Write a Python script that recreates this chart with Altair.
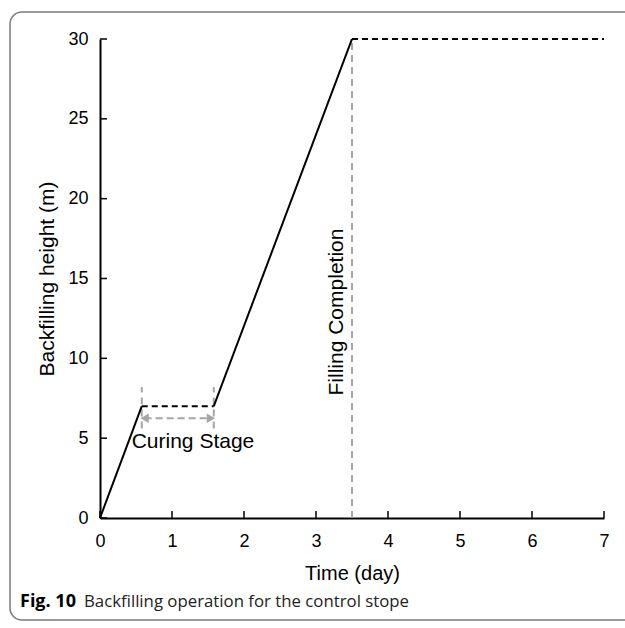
import altair as alt
import pandas as pd

# Backfilling height versus time for the control stope
seg_id = [1, 1, 2, 2, 3, 3, 4, 4]
seg_style = ["solid", "solid", "dashed", "dashed", "solid", "solid", "dashed", "dashed"]
time_day = [0, 0.58, 0.58, 1.58, 1.58, 3.5, 3.5, 7]
height_m = [0, 7, 7, 7, 7, 30, 30, 30]

# Grey dashed markers (curing stage bounds and filling completion)
marker_id = [1, 1, 2, 2, 3, 3]
marker_x = [0.58, 0.58, 1.58, 1.58, 3.5, 3.5]
marker_y = [5.6, 8.2, 5.6, 8.2, 0, 30]

# Double-headed arrow spanning the curing stage
arrow_x = [0.62, 1.54]
arrow_y = [6.25, 6.25]
arrow_heads = ["triangle-left", "triangle-right"]

x_ticks = [0, 1, 2, 3, 4, 5, 6, 7]
y_ticks = [0, 5, 10, 15, 20, 25, 30]

W, H = 504, 479
FONT = "Liberation Sans"

xs = alt.Scale(domain=[0, 7], nice=False)
ys = alt.Scale(domain=[0, 30], nice=False)

curve = pd.DataFrame({"seg": seg_id, "style": seg_style, "t": time_day, "h": height_m})
markers = pd.DataFrame({"id": marker_id, "t": marker_x, "h": marker_y})
arrow = pd.DataFrame({"t": arrow_x, "h": arrow_y, "shape": arrow_heads})

frame = alt.Chart(pd.DataFrame({"a": [0]})).mark_rect(
    fill=None, stroke="#7a7a7a", strokeWidth=1.5, cornerRadius=12
).encode(
    x=alt.value(-90), x2=alt.value(560), y=alt.value(-27), y2=alt.value(581)
)

base = alt.Chart(curve).encode(
    x=alt.X("t:Q", scale=xs,
            axis=alt.Axis(title="Time (day)", values=x_ticks, format="d",
                          labelFlush=False, labelOverlap=False,
                          labelPadding=14, titlePadding=13, titleFontSize=20)),
    y=alt.Y("h:Q", scale=ys,
            axis=alt.Axis(title="Backfilling height (m)", values=y_ticks,
                          labelFlush=False, labelOverlap=False,
                          labelPadding=12, titlePadding=10, titleFontSize=21)),
)

line = base.mark_line(color="black", strokeWidth=2).encode(
    detail="seg:N",
    strokeDash=alt.StrokeDash("style:N", legend=None,
                              scale=alt.Scale(domain=["solid", "dashed"],
                                              range=[[1, 0], [6, 4]])),
)

mark_lines = alt.Chart(markers).mark_line(
    color="#a6a6a6", strokeWidth=2, strokeDash=[7, 5]
).encode(x=alt.X("t:Q", scale=xs), y=alt.Y("h:Q", scale=ys), detail="id:N")

arrow_line = alt.Chart(arrow).mark_line(
    color="#a6a6a6", strokeWidth=2, strokeDash=[7, 4]
).encode(x=alt.X("t:Q", scale=xs), y=alt.Y("h:Q", scale=ys))

arrow_tips = alt.Chart(arrow).mark_point(
    filled=True, color="#a6a6a6", size=90, opacity=1
).encode(
    x=alt.X("t:Q", scale=xs), y=alt.Y("h:Q", scale=ys),
    shape=alt.Shape("shape:N", scale=None),
)

curing_label = alt.Chart(pd.DataFrame({"t": [0.44], "h": [4.4], "s": ["Curing Stage"]})).mark_text(
    align="left", baseline="alphabetic", font=FONT, fontSize=21, color="black"
).encode(x=alt.X("t:Q", scale=xs), y=alt.Y("h:Q", scale=ys), text="s:N")

fill_label = alt.Chart(pd.DataFrame({"t": [3.38], "h": [12.9], "s": ["Filling Completion"]})).mark_text(
    align="center", baseline="alphabetic", angle=270, font=FONT, fontSize=21, color="black"
).encode(x=alt.X("t:Q", scale=xs), y=alt.Y("h:Q", scale=ys), text="s:N")

# Inward-pointing tick marks
y_tick_marks = alt.Chart(pd.DataFrame({"h": y_ticks})).mark_rule(
    color="black", strokeWidth=1.5
).encode(y=alt.Y("h:Q", scale=ys), x=alt.value(0), x2=alt.value(7))

x_tick_marks = alt.Chart(pd.DataFrame({"t": x_ticks})).mark_rule(
    color="black", strokeWidth=1.5
).encode(x=alt.X("t:Q", scale=xs), y=alt.value(H), y2=alt.value(H - 7))

caption_bold = alt.Chart(pd.DataFrame({"s": ["Fig. 10"]})).mark_text(
    align="left", baseline="alphabetic", font="Open Sans", fontWeight="bold",
    fontSize=18, color="black"
).encode(x=alt.value(-80), y=alt.value(568), text="s:N")

caption_text = alt.Chart(pd.DataFrame({"s": ["Backfilling operation for the control stope"]})).mark_text(
    align="left", baseline="alphabetic", font="Open Sans", fontSize=16.8, color="#222222"
).encode(x=alt.value(-16), y=alt.value(568), text="s:N")

chart = alt.layer(
    frame, mark_lines, arrow_line, arrow_tips, line, y_tick_marks, x_tick_marks,
    curing_label, fill_label, caption_bold, caption_text
).properties(
    width=W, height=H,
    background="white",
    autosize=alt.AutoSizeParams(type="none"),
    padding={"left": 100, "top": 39, "right": 21, "bottom": 110},
).configure_view(stroke=None).configure_axis(
    grid=False, domainColor="black", domainWidth=2, tickSize=0,
    labelFont=FONT, labelFontSize=18, labelColor="black",
    titleFont=FONT, titleFontWeight="normal", titleColor="black",
)

chart.save("out.html", embed_options={"renderer": "svg", "actions": False})
